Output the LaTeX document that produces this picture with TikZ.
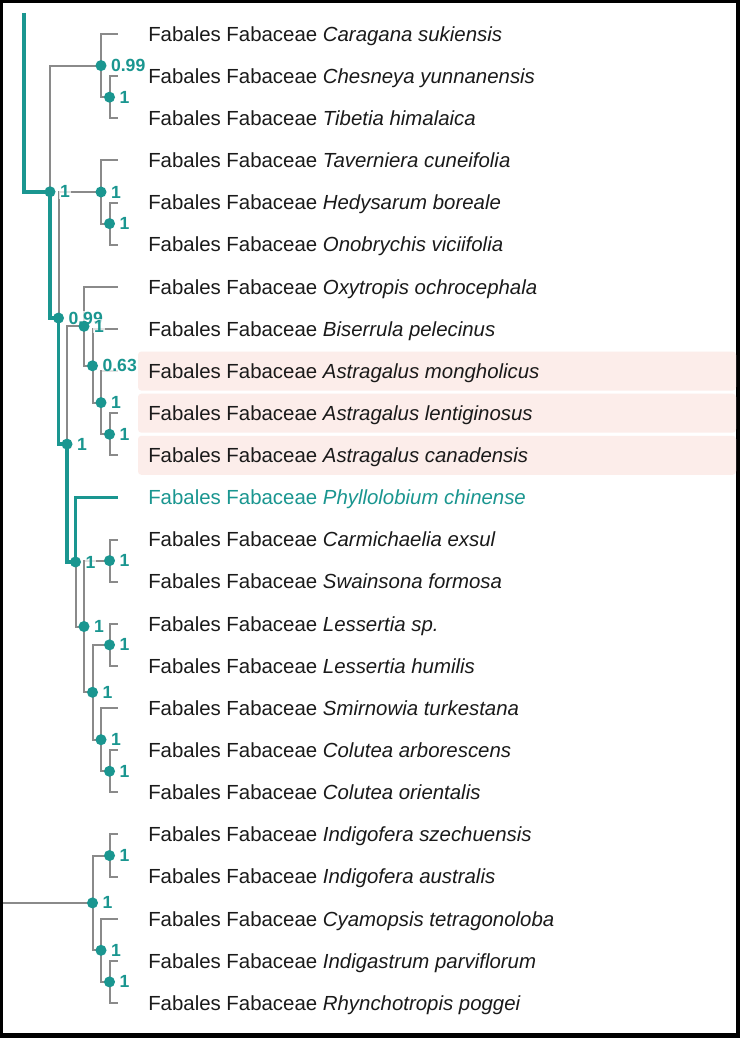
\documentclass[tikz,border=0pt]{standalone}
\usepackage{fontspec}
\setmainfont{Liberation Sans}
\usetikzlibrary{calc}
\definecolor{treeteal}{HTML}{1A9690}
\definecolor{branchgray}{HTML}{8A8A8A}
\definecolor{ink}{HTML}{1A1A1A}
\definecolor{hlpink}{HTML}{FCEDEA}
\tikzset{
  branch/.style={draw=branchgray,line width=1.5pt},
  hilite/.style={draw=treeteal,line width=2.9pt},
  bsdot/.style={circle,fill=treeteal,inner sep=0pt,minimum size=8.3pt},
  bsval/.style={anchor=west,inner sep=0.6pt,fill=white,fill opacity=0.75,text opacity=1,
                text=treeteal,font=\bfseries\fontsize{13.2}{15}\selectfont},
  taxon/.style={anchor=base west,inner sep=0pt,font=\fontsize{15.3}{18}\selectfont},
  rowband/.style={fill=hlpink,rounded corners=2.5pt}
}

\begin{document}
\begin{tikzpicture}[x=0.75pt,y=-0.75pt]
  \useasboundingbox (0,0) rectangle (740,1038);
  \fill[black] (0,0) rectangle (740,1038);
  \fill[white] (3,3) rectangle (736,1033);
  \foreach \i in {8,9,10} {
    \pgfmathsetmacro\yy{34+42.13*\i}
    \fill[rowband] (138,{\yy-19.5}) rectangle (736,{\yy+19.5});
  }

  \foreach \i/\g/\c in {0/Caragana sukiensis/ink,1/Chesneya yunnanensis/ink,2/Tibetia himalaica/ink,
      3/Taverniera cuneifolia/ink,4/Hedysarum boreale/ink,5/Onobrychis viciifolia/ink,
      6/Oxytropis ochrocephala/ink,7/Biserrula pelecinus/ink,8/Astragalus mongholicus/ink,
      9/Astragalus lentiginosus/ink,10/Astragalus canadensis/ink,11/Phyllolobium chinense/treeteal,
      12/Carmichaelia exsul/ink,13/Swainsona formosa/ink,14/Lessertia sp./ink,
      15/Lessertia humilis/ink,16/Smirnowia turkestana/ink,17/Colutea arborescens/ink,
      18/Colutea orientalis/ink,19/Indigofera szechuensis/ink,20/Indigofera australis/ink,
      21/Cyamopsis tetragonoloba/ink,22/Indigastrum parviflorum/ink,23/Rhynchotropis poggei/ink} {
    \pgfmathsetmacro\yy{34+42.13*\i}
    \coordinate (l\i) at (118,\yy);
    \node[taxon,text=\c] (s\i) at (148,{\yy+7.3}) {Fabales Fabaceae \textit{\g}};
  }

  \foreach \n/\x/\y in {tA/50/191.8,tB/58.5/318.05,tC/67/444.1,tE/75.5/561.95,
      nCar/101/65.6,nChe/109.5/97.2,nTav/101/192.0,nHed/109.5/223.6,
      nOxy/84/326.3,nBis/92.5/365.8,nAmo/101/402.6,nAle/109.5/434.25,
      nI/84/626.5,nCmi/109.5/560.65,nK/92.5/692.3,nLes/109.5/644.85,
      nSmi/101/739.7,nCol/109.5/771.25,
      nR/92.5/902.9,nInd/109.5/855.55,nCya/101/950.3,nIgs/109.5/981.9} {
    \coordinate (\n) at (\x,\y);
  }
  \coordinate (stub) at (24,13);
  \coordinate (stub2) at (3,902.9);

  \foreach \p/\c in {tA/nCar,tA/tB,nCar/l0,nCar/nChe,nChe/l1,nChe/l2,
      tB/nTav,tB/tC,nTav/l3,nTav/nHed,nHed/l4,nHed/l5,
      tC/nOxy,tC/tE,nOxy/l6,nOxy/nBis,nBis/l7,nBis/nAmo,nAmo/l8,nAmo/nAle,nAle/l9,nAle/l10,
      tE/l11,tE/nI,nI/nCmi,nI/nK,nCmi/l12,nCmi/l13,
      nK/nLes,nK/nSmi,nLes/l14,nLes/l15,nSmi/l16,nSmi/nCol,nCol/l17,nCol/l18,
      nR/nInd,nR/nCya,nInd/l19,nInd/l20,nCya/l21,nCya/nIgs,nIgs/l22,nIgs/l23} {
    \draw[branch] (\p) |- (\c);
  }
  \draw[branch] (stub2) -- (nR);
  \draw[hilite] (stub) |- (tA) |- (tB) |- (tC) |- (tE) |- (l11);

  \foreach \n/\v in {nCar/0.99,nChe/1,tA/1,nTav/1,nHed/1,tB/0.99,nOxy/1,nBis/0.63,
      nAmo/1,nAle/1,tC/1,tE/1,nCmi/1,nI/1,nLes/1,nK/1,nSmi/1,nCol/1,
      nInd/1,nR/1,nCya/1,nIgs/1} {
    \node[bsval] (v\n) at ($(\n)+(9,0)$) {\v};
  }
  \foreach \n in {nCar,nChe,tA,nTav,nHed,tB,nOxy,nBis,nAmo,nAle,tC,tE,
      nCmi,nI,nLes,nK,nSmi,nCol,nInd,nR,nCya,nIgs} {
    \node[bsdot] (d\n) at (\n) {};
  }
\end{tikzpicture}
\end{document}
